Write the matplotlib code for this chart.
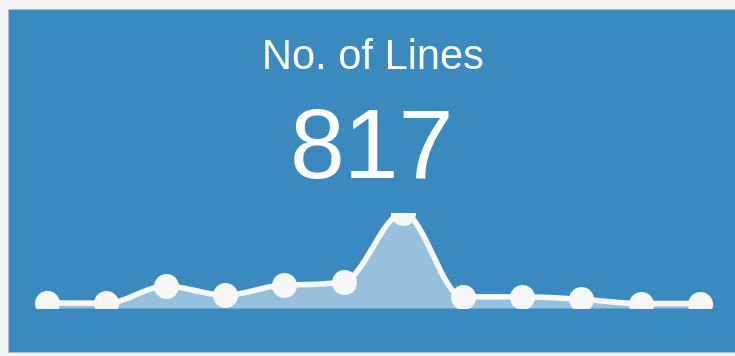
#!/usr/bin/env python3
import matplotlib
matplotlib.use("Agg")
import matplotlib.pyplot as plt
import numpy as np
from matplotlib.patches import Rectangle

title = "No. of Lines"
total = "817"
lines_per_day = [18, 17, 78, 46, 82, 94, 339, 40, 40, 31, 16, 16]

W, H = 735, 356
PANEL = "#3b8abf"
PAGE = "#f3f3f3"
WHITE = "#f7f7f7"


def monotone(xs, ys, samples=40):
    """monotone cubic (Fritsch-Carlson), no overshoot between points"""
    xs = np.asarray(xs, float)
    ys = np.asarray(ys, float)
    n = len(xs)
    h = np.diff(xs)
    d = np.diff(ys) / h
    m = np.zeros(n)
    m[0], m[-1] = d[0], d[-1]
    for i in range(1, n - 1):
        m[i] = 0 if d[i - 1] * d[i] <= 0 else (d[i - 1] + d[i]) / 2
    for i in range(n - 1):
        if d[i] == 0:
            m[i] = m[i + 1] = 0
            continue
        a, b = m[i] / d[i], m[i + 1] / d[i]
        s = a * a + b * b
        if s > 9:
            tau = 3 / np.sqrt(s)
            m[i], m[i + 1] = tau * a * d[i], tau * b * d[i]
    out_x, out_y = [], []
    t = np.linspace(0, 1, samples)
    for i in range(n - 1):
        h00 = 2 * t**3 - 3 * t**2 + 1
        h10 = t**3 - 2 * t**2 + t
        h01 = -2 * t**3 + 3 * t**2
        h11 = t**3 - t**2
        out_x.extend(xs[i] + t * h[i])
        out_y.extend(h00 * ys[i] + h10 * h[i] * m[i] + h01 * ys[i + 1] + h11 * h[i] * m[i + 1])
    return np.array(out_x), np.array(out_y)


fig = plt.figure(figsize=(W / 100, H / 100), dpi=100)
fig.patch.set_facecolor(PAGE)
fig.patches.append(Rectangle((8 / W, 4 / H), 1, 343 / H, transform=fig.transFigure,
                             facecolor=PANEL, edgecolor="#9cc2dc", linewidth=0.6,
                             zorder=-5))

fig.text(373 / W, 1 - 69 / H, title, color="white", fontsize=30,
         family="Liberation Sans", ha="center", va="baseline")
fig.text(372 / W, 1 - 178 / H, total, color="white", fontsize=71,
         family="Liberation Sans", ha="center", va="baseline")

# sparkline area: pixel box 30..717 x 213..308
ax = fig.add_axes([30 / W, 48 / H, 687 / W, 95 / H])
ax.set_zorder(2)
ax.set_axis_off()
ax.patch.set_alpha(0)

x = np.arange(len(lines_per_day))
y = np.array(lines_per_day, dtype=float)
step = (700 - 47) / (len(x) - 1)
pad = 17 / step
ax.set_xlim(-pad, len(x) - 1 + pad)
ax.set_ylim(0, y.max())

sx, sy = monotone(x, y)

ax.fill_between(sx, 0, sy, color="white", alpha=0.47, linewidth=0)
ax.plot(sx, sy, color=WHITE, lw=4, solid_capstyle="round")
ax.plot(x, y, "o", color=WHITE, markersize=18, markeredgewidth=0)

fig.savefig("out.png", dpi=100, facecolor=fig.get_facecolor())
